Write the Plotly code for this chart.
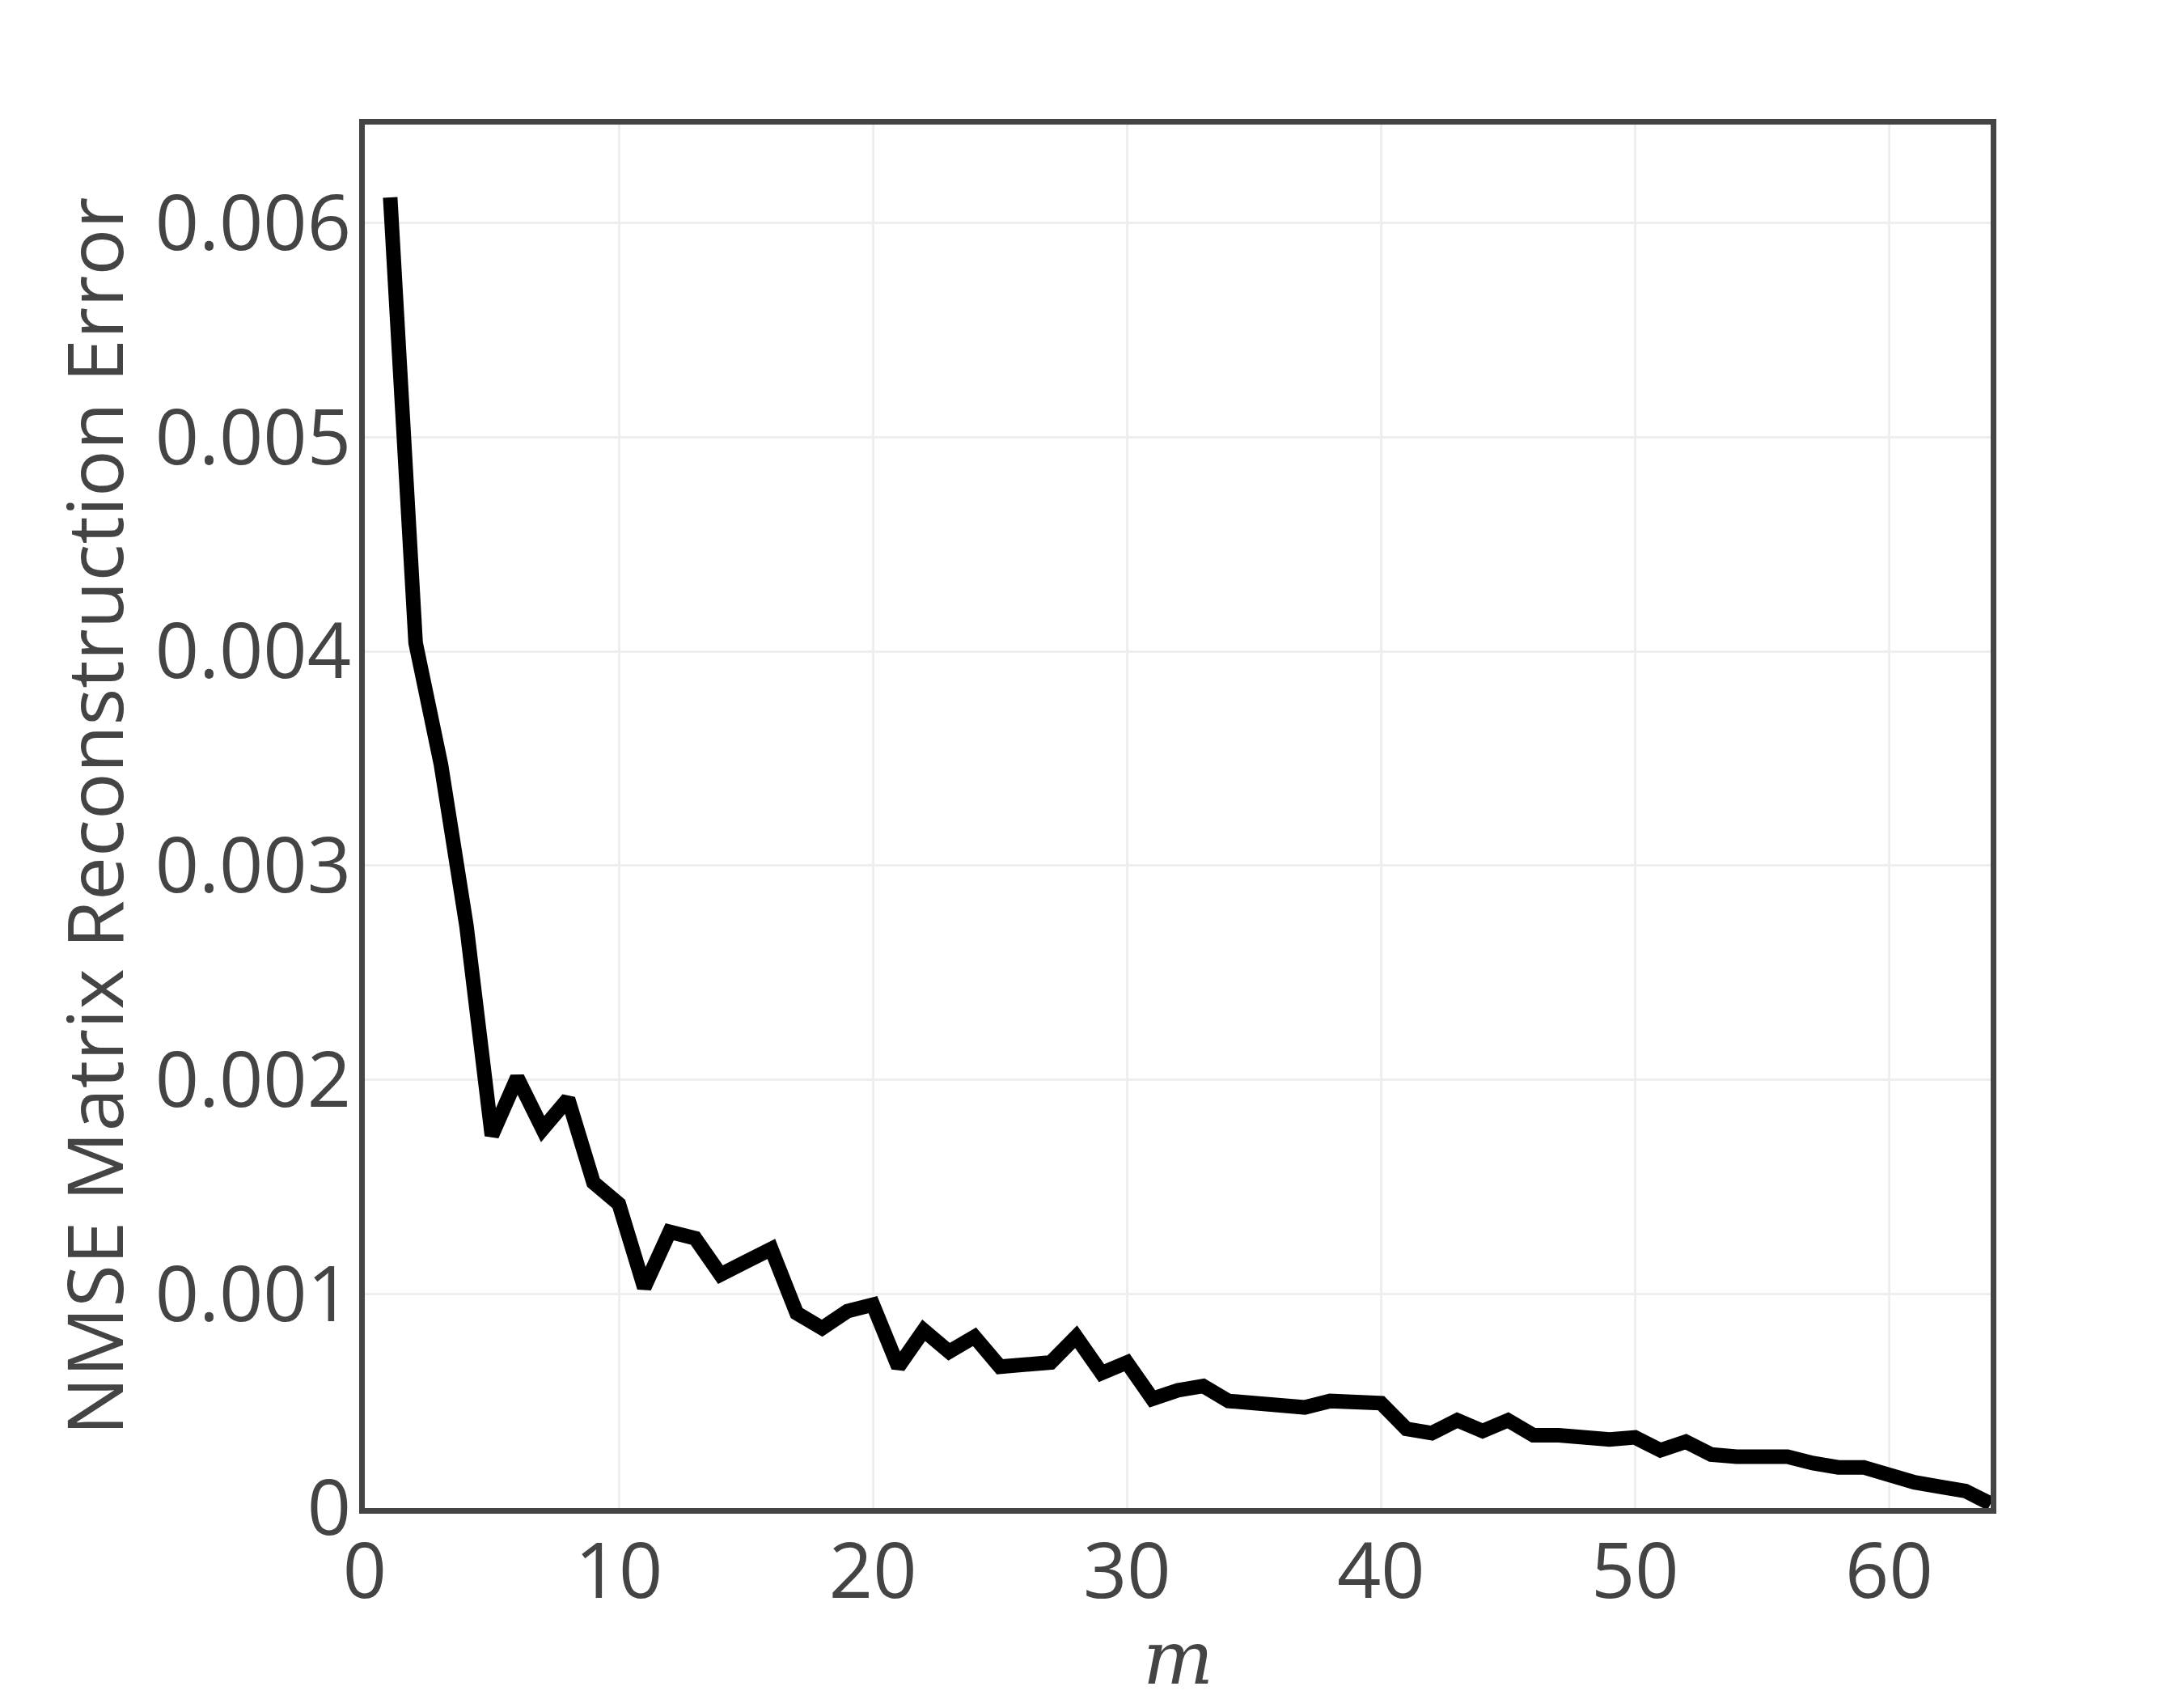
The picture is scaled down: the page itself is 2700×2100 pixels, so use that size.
import plotly.graph_objects as go

m_values = list(range(1, 65))
nmse = [
    0.00612, 0.00404, 0.00347, 0.00272, 0.00174, 0.00201, 0.00177, 0.00191,
    0.00152, 0.00142, 0.00103, 0.00129, 0.00126, 0.00109, 0.00115, 0.00121,
    0.00091, 0.00084, 0.00092, 0.00095, 0.00066, 0.00083, 0.00073, 0.00080,
    0.00066, 0.00067, 0.00068, 0.00080, 0.00063, 0.00068, 0.00051, 0.00055,
    0.00057, 0.00050, 0.00049, 0.00048, 0.00047, 0.00050, 0.00049, 0.00049,
    0.00037, 0.00035, 0.00041, 0.00036, 0.00041, 0.00034, 0.00034, 0.00033,
    0.00032, 0.00033, 0.00027, 0.00031, 0.00025, 0.00024, 0.00024, 0.00024,
    0.00021, 0.00019, 0.00019, 0.00015, 0.00012, 0.00010, 0.00008, 0.00002,
]

x_title = "<i>m</i>"
y_title = "NMSE Matrix Reconstruction Error"

fig = go.Figure(
    go.Scatter(x=m_values, y=nmse, mode="lines",
               line=dict(color="black", width=18), showlegend=False)
)

fig.update_layout(
    template="none",
    width=2700, height=2100,
    margin=dict(l=443, r=247, t=146, b=244),
    paper_bgcolor="white", plot_bgcolor="white",
    font=dict(family="Open Sans, sans-serif", size=95, color="#444"),
)
fig.update_xaxes(
    range=[0, 64], dtick=10, showgrid=True, gridcolor="#eee", gridwidth=3,
    showline=True, linecolor="#444", linewidth=7, mirror=True, zeroline=False,
    ticklabelstandoff=-10,
)
fig.update_yaxes(
    range=[0, 0.00646], dtick=0.001, showgrid=True, gridcolor="#eee", gridwidth=3,
    showline=True, linecolor="#444", linewidth=7, mirror=True, zeroline=False,
    ticklabelstandoff=-9,
    title=dict(text=y_title, standoff=10, font=dict(size=96)),
)
fig.add_annotation(
    text=x_title, xref="paper", yref="paper", x=0.5, y=-0.1404,
    xanchor="center", yanchor="bottom", showarrow=False, borderpad=0,
    font=dict(family="DejaVu Serif, serif", size=92, color="#444"),
)

fig.write_html("out.html")
